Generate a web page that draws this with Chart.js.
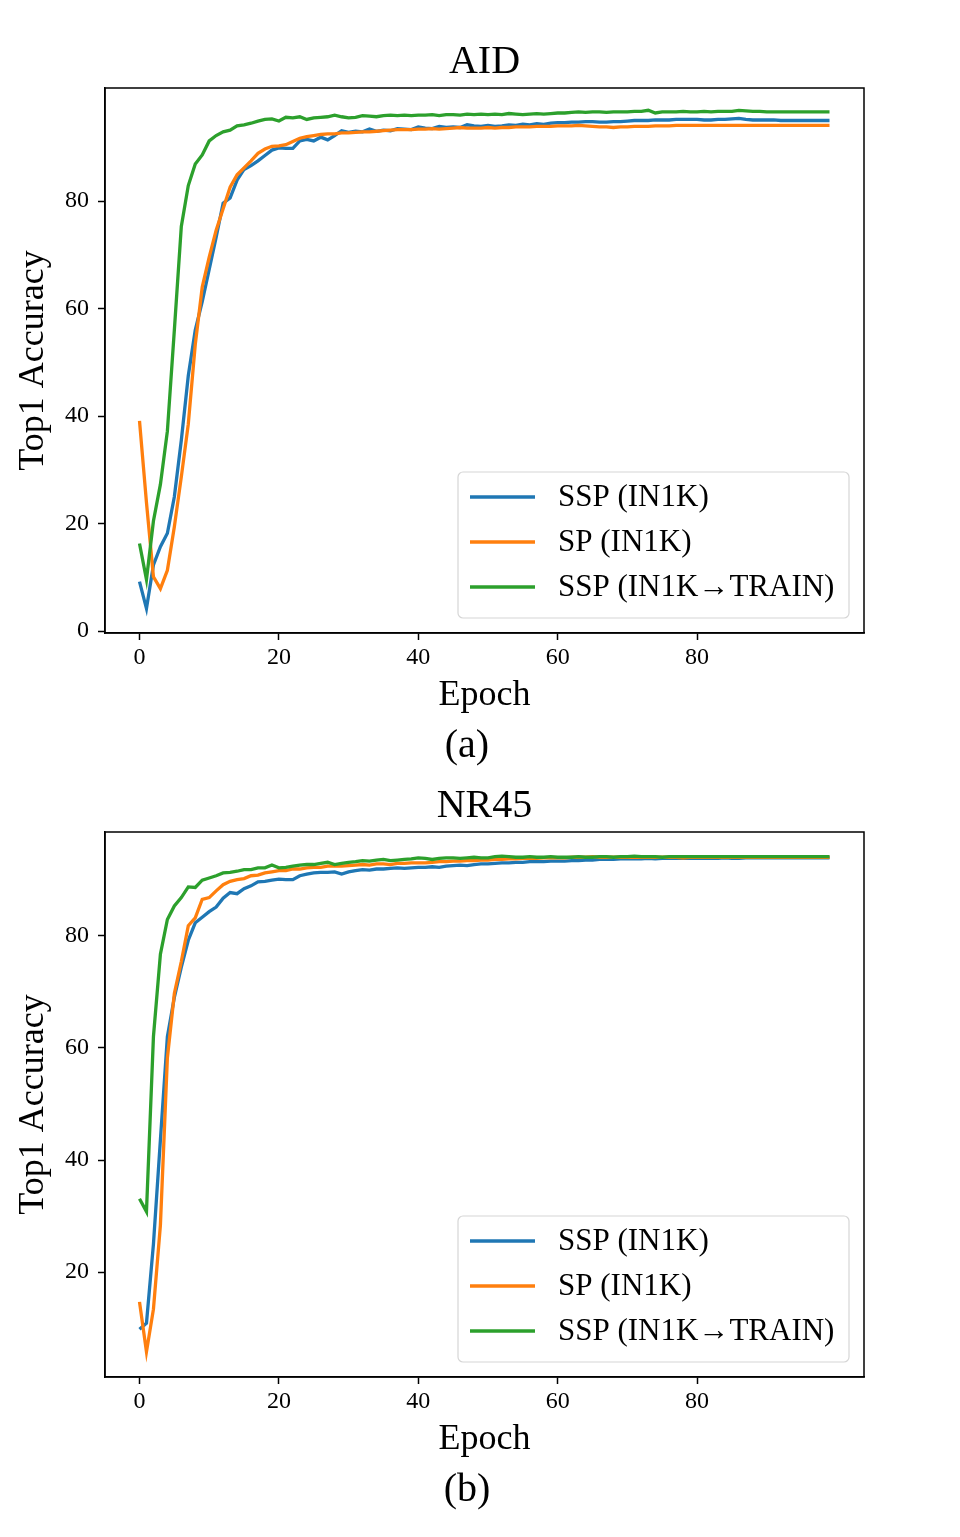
<!DOCTYPE html>
<html>
<head>
<meta charset="utf-8">
<script src="https://cdn.jsdelivr.net/npm/chart.js@4.4.1/dist/chart.umd.min.js"></script>
<style>
  html, body { margin: 0; padding: 0; background: #ffffff; }
  body { width: 960px; height: 1537px; position: relative; overflow: hidden; }
  canvas { position: absolute; left: 0; }
  .cap { position: absolute; font-family: 'Liberation Serif', 'Times New Roman', serif; font-size: 40px; line-height: 48px; color: #000; transform: translateX(-50%); white-space: nowrap; }
</style>
</head>
<body>
<canvas id="c1" width="960" height="772" style="top:0px;width:960px;height:772px"></canvas>
<canvas id="c2" width="960" height="772" style="top:744px;width:960px;height:772px"></canvas>
<div class="cap" style="left:467px;top:720px">(a)</div>
<div class="cap" style="left:467px;top:1464px">(b)</div>
<script>
// ---------------- data ----------------
const epochs = Array.from({length: 100}, (_, i) => i);
const seriesLabels = ['SSP (IN1K)', 'SP (IN1K)', 'SSP (IN1K\u2192TRAIN)'];
const seriesColors = ['#1f77b4', '#ff7f0e', '#2ca02c'];
const chartTitles = ['AID', 'NR45'];
const xTicks = [0, 20, 40, 60, 80];
const yTicksAID = [0, 20, 40, 60, 80];
const yTicksNR45 = [20, 40, 60, 80];
const axisTitleX = 'Epoch';
const axisTitleY = 'Top1 Accuracy';

// AID
const aidSSP = [
  9.2, 4.2, 12.3, 15.7, 18.2, 25.0, 35.5, 47.5, 56.0, 61.3,
  67.3, 73.3, 79.6, 80.6, 83.9, 85.9, 86.6, 87.5, 88.5, 89.5,
  89.9, 89.8, 89.8, 91.2, 91.5, 91.2, 91.9, 91.4, 92.2, 93.1,
  92.8, 93.0, 92.9, 93.4, 93.0, 93.2, 93.1, 93.5, 93.4, 93.3,
  93.8, 93.6, 93.5, 93.9, 93.7, 93.8, 93.7, 94.2, 94.0, 93.9,
  94.1, 93.9, 94.0, 94.2, 94.1, 94.3, 94.2, 94.4, 94.3, 94.5,
  94.6, 94.6, 94.7, 94.7, 94.8, 94.8, 94.7, 94.7, 94.8, 94.8,
  94.9, 95.0, 95.0, 95.0, 95.1, 95.1, 95.1, 95.2, 95.2, 95.2,
  95.2, 95.1, 95.1, 95.2, 95.2, 95.3, 95.4, 95.2, 95.1, 95.1,
  95.1, 95.1, 95.0, 95.0, 95.0, 95.0, 95.0, 95.0, 95.0, 95.0
];
const aidSP = [
  39.1, 23.9, 10.1, 7.9, 11.3, 19.4, 28.7, 38.5, 53.3, 64.0,
  69.6, 74.6, 78.6, 82.6, 84.9, 86.2, 87.5, 88.9, 89.7, 90.2,
  90.3, 90.5, 91.1, 91.7, 92.0, 92.2, 92.4, 92.5, 92.5, 92.7,
  92.7, 92.8, 92.9, 92.9, 93.0, 93.1, 93.2, 93.3, 93.3, 93.3,
  93.4, 93.4, 93.5, 93.4, 93.5, 93.6, 93.7, 93.6, 93.6, 93.6,
  93.7, 93.6, 93.7, 93.7, 93.8, 93.8, 93.8, 93.9, 93.9, 93.9,
  94.0, 94.0, 94.0, 94.1, 94.0, 93.9, 93.8, 93.8, 93.7, 93.8,
  93.8, 93.9, 93.9, 93.9, 94.0, 94.0, 94.0, 94.1, 94.1, 94.1,
  94.1, 94.1, 94.1, 94.1, 94.1, 94.1, 94.1, 94.1, 94.1, 94.1,
  94.1, 94.1, 94.1, 94.1, 94.1, 94.1, 94.1, 94.1, 94.1, 94.1
];
const aidSSPTrain = [
  16.3, 9.6, 20.5, 27.3, 37.2, 56.0, 75.3, 82.9, 86.9, 88.6,
  91.2, 92.2, 92.9, 93.2, 94.0, 94.2, 94.5, 94.9, 95.2, 95.3,
  94.9, 95.6, 95.5, 95.7, 95.2, 95.5, 95.6, 95.7, 96.0, 95.7,
  95.5, 95.6, 95.9, 95.8, 95.7, 95.9, 96.0, 95.9, 96.0, 95.9,
  96.0, 96.0, 96.1, 95.9, 96.1, 96.1, 96.0, 96.2, 96.1, 96.2,
  96.1, 96.2, 96.1, 96.3, 96.2, 96.1, 96.2, 96.3, 96.2, 96.3,
  96.4, 96.4, 96.5, 96.6, 96.5, 96.6, 96.6, 96.5, 96.6, 96.6,
  96.6, 96.7, 96.7, 96.9, 96.4, 96.6, 96.6, 96.6, 96.7, 96.6,
  96.6, 96.7, 96.6, 96.7, 96.7, 96.7, 96.9, 96.8, 96.7, 96.7,
  96.6, 96.6, 96.6, 96.6, 96.6, 96.6, 96.6, 96.6, 96.6, 96.6
];

// NR45
const nrSSP = [
  9.8, 10.9, 25.0, 43.6, 62.0, 69.0, 74.4, 79.2, 82.3, 83.3,
  84.3, 85.1, 86.7, 87.7, 87.5, 88.4, 88.9, 89.6, 89.7, 89.9,
  90.1, 90.0, 90.0, 90.7, 91.0, 91.2, 91.3, 91.3, 91.4, 91.0,
  91.4, 91.6, 91.8, 91.7, 91.9, 91.9, 92.0, 92.1, 92.0, 92.1,
  92.2, 92.2, 92.3, 92.2, 92.4, 92.5, 92.6, 92.5, 92.7, 92.8,
  92.8, 92.9, 93.0, 93.0, 93.1, 93.1, 93.2, 93.2, 93.2, 93.3,
  93.3, 93.3, 93.4, 93.4, 93.5, 93.5, 93.6, 93.6, 93.6, 93.7,
  93.7, 93.7, 93.7, 93.8, 93.7, 93.8, 93.8, 93.8, 93.8, 93.8,
  93.8, 93.8, 93.8, 93.8, 93.9, 93.8, 93.8, 93.9, 93.9, 93.9,
  93.9, 93.9, 93.9, 93.9, 93.9, 93.9, 93.9, 93.9, 93.9, 93.9
];
const nrSP = [
  14.7, 5.8, 13.4, 28.4, 58.2, 69.7, 75.4, 81.8, 83.2, 86.5,
  86.8, 88.0, 89.1, 89.7, 90.0, 90.2, 90.7, 90.8, 91.2, 91.4,
  91.6, 91.6, 91.9, 91.9, 92.1, 92.2, 92.2, 92.4, 92.4, 92.4,
  92.5, 92.6, 92.7, 92.6, 92.8, 92.8, 92.7, 92.9, 92.9, 93.0,
  93.0, 93.0, 93.1, 93.2, 93.2, 93.3, 93.3, 93.4, 93.4, 93.5,
  93.5, 93.6, 93.6, 93.7, 93.7, 93.8, 93.8, 93.8, 93.9, 93.9,
  93.9, 93.9, 94.0, 94.0, 94.0, 94.1, 94.0, 94.0, 94.0, 94.0,
  94.0, 94.0, 94.0, 94.0, 94.0, 94.0, 94.0, 94.0, 93.9, 94.0,
  94.0, 94.0, 94.0, 94.0, 94.0, 94.0, 94.0, 94.0, 94.0, 94.0,
  94.0, 94.0, 94.0, 94.0, 94.0, 94.0, 94.0, 94.0, 94.0, 94.0
];
const nrSSPTrain = [
  33.1, 30.8, 62.0, 76.7, 82.9, 85.3, 86.8, 88.7, 88.6, 89.9,
  90.3, 90.7, 91.2, 91.3, 91.5, 91.8, 91.8, 92.1, 92.1, 92.6,
  92.1, 92.2, 92.4, 92.6, 92.7, 92.7, 92.9, 93.1, 92.7, 92.9,
  93.1, 93.2, 93.4, 93.3, 93.5, 93.6, 93.4, 93.5, 93.6, 93.7,
  93.9, 93.8, 93.6, 93.8, 93.9, 93.9, 93.8, 93.9, 94.0, 93.9,
  93.9, 94.1, 94.2, 94.1, 94.0, 94.0, 94.1, 94.0, 94.0, 94.1,
  94.0, 94.0, 94.0, 94.1, 94.0, 94.0, 94.1, 94.1, 94.0, 94.1,
  94.1, 94.2, 94.1, 94.1, 94.1, 94.0, 94.1, 94.1, 94.1, 94.1,
  94.1, 94.1, 94.1, 94.1, 94.1, 94.1, 94.1, 94.1, 94.1, 94.1,
  94.1, 94.1, 94.1, 94.1, 94.1, 94.1, 94.1, 94.1, 94.1, 94.1
];

// ---------------- drawing ----------------
const SERIF = "'Liberation Serif', 'Times New Roman', serif";
Chart.defaults.font.family = SERIF;
Chart.defaults.color = '#000';

const framePlugin = {
  id: 'frame',
  afterDatasetsDraw(chart) {
    const {ctx, chartArea: a} = chart;
    ctx.save();
    ctx.strokeStyle = '#000';
    ctx.lineWidth = 1.5;
    ctx.strokeRect(a.left, a.top, a.right - a.left, a.bottom - a.top);
    ctx.restore();
  }
};

const boxLegendPlugin = {
  id: 'boxLegend',
  afterDraw(chart) {
    const {ctx, chartArea: a} = chart;
    const w = 391, h = 146;
    const right = a.right - 15, bottom = a.bottom - 15;
    const left = right - w, top = bottom - h;
    ctx.save();
    ctx.beginPath();
    if (ctx.roundRect) ctx.roundRect(left, top, w, h, 5); else ctx.rect(left, top, w, h);
    ctx.fillStyle = 'rgba(255,255,255,0.8)';
    ctx.fill();
    ctx.strokeStyle = '#d6d6d6';
    ctx.lineWidth = 1.2;
    ctx.stroke();
    const ds = chart.data.datasets.slice().sort((p, q) => p.legendIndex - q.legendIndex);
    ds.forEach((d, i) => {
      const y = top + 25 + i * 45;
      ctx.beginPath();
      ctx.moveTo(left + 12, y);
      ctx.lineTo(left + 77, y);
      ctx.strokeStyle = d.borderColor;
      ctx.lineWidth = 3.3;
      ctx.stroke();
      ctx.fillStyle = '#000';
      ctx.font = '31px ' + SERIF;
      ctx.textAlign = 'left';
      ctx.textBaseline = 'middle';
      ctx.fillText(d.label, left + 100, y + 1);
    });
    ctx.restore();
  }
};

function makeChart(id, title, series, yMin, yMax, yTicks) {
  const datasets = series.map((s, i) => ({
    label: seriesLabels[i],
    data: s,
    borderColor: seriesColors[i],
    backgroundColor: seriesColors[i],
    borderWidth: 3.3,
    pointRadius: 0,
    tension: 0,
    fill: false,
    order: 3 - i,
    legendIndex: i
  }));
  return new Chart(document.getElementById(id), {
    type: 'line',
    data: { labels: epochs, datasets },
    options: {
      responsive: false,
      animation: false,
      devicePixelRatio: 1,
      layout: { padding: { left: 0, right: 96, top: 0, bottom: 55 } },
      plugins: {
        legend: { display: false },
        tooltip: { enabled: false },
        title: {
          display: true, text: title, fullSize: false, color: '#000',
          font: { family: SERIF, size: 40, weight: 'normal' },
          padding: { top: 38, bottom: 2 }
        }
      },
      scales: {
        x: {
          type: 'linear', min: -4.95, max: 103.95,
          afterBuildTicks: s => { s.ticks = xTicks.map(v => ({ value: v })); },
          afterFit: s => { s.height = 84; },
          grid: { drawOnChartArea: false, drawTicks: true, tickLength: 7, tickWidth: 1.5, tickColor: '#000' },
          border: { display: true, color: '#000', width: 1.5 },
          ticks: { padding: 3, color: '#000', maxRotation: 0, autoSkip: false, font: { family: SERIF, size: 24 } },
          title: { display: true, text: axisTitleX, color: '#000', padding: 0, font: { family: SERIF, size: 36 } }
        },
        y: {
          type: 'linear', min: yMin, max: yMax,
          afterBuildTicks: s => { s.ticks = yTicks.map(v => ({ value: v })); },
          afterFit: s => { s.width = 105; },
          grid: { drawOnChartArea: false, drawTicks: true, tickLength: 7, tickWidth: 1.5, tickColor: '#000' },
          border: { display: true, color: '#000', width: 1.5 },
          ticks: { padding: 9, color: '#000', autoSkip: false, font: { family: SERIF, size: 24 } },
          title: { display: true, text: axisTitleY, color: '#000', padding: { top: 12, bottom: 0 }, font: { family: SERIF, size: 36 } }
        }
      }
    },
    plugins: [framePlugin, boxLegendPlugin]
  });
}

makeChart('c1', chartTitles[0], [aidSSP, aidSP, aidSSPTrain], -0.35, 101.05, yTicksAID);
makeChart('c2', chartTitles[1], [nrSSP, nrSP, nrSSPTrain], 1.3, 98.5, yTicksNR45);
</script>
</body>
</html>
